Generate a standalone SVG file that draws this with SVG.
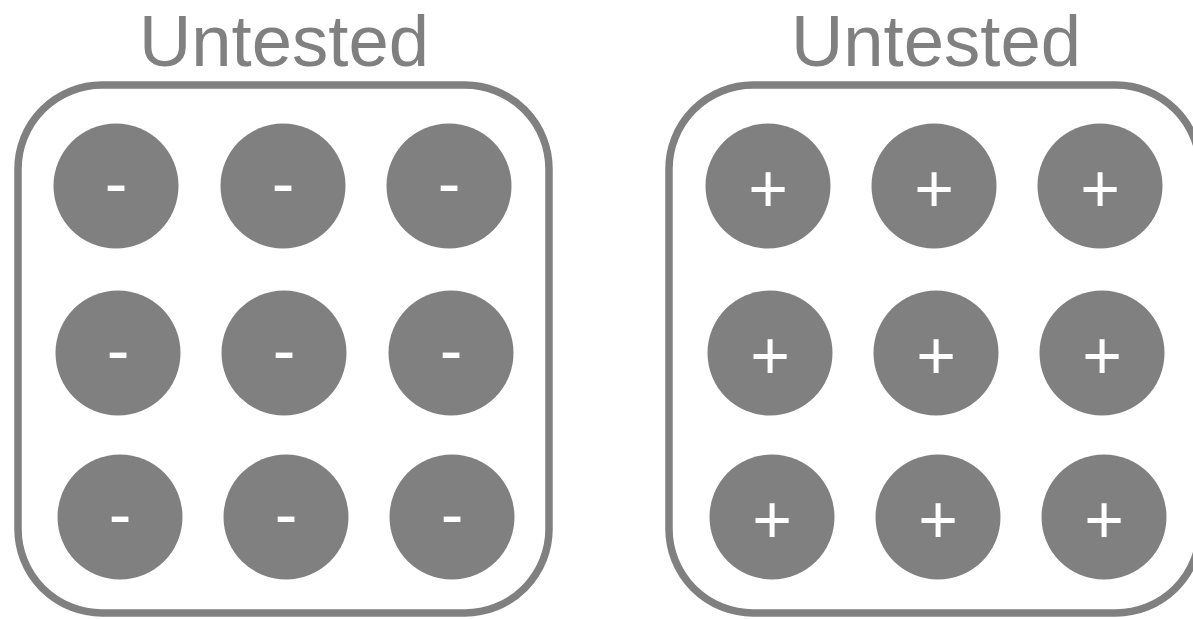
<svg xmlns="http://www.w3.org/2000/svg" width="1193" height="619" viewBox="0 0 1193 619">
<style>
.title{font-family:"Liberation Sans",Arial,sans-serif;font-size:73px;fill:#808080;text-anchor:middle}
.box{fill:none;stroke:#808080;stroke-width:7.5}
.c{fill:#808080}
.s{font-family:"Liberation Sans",Arial,sans-serif;font-size:68px;fill:#ffffff;text-anchor:middle}
</style>
<rect width="1193" height="619" fill="#ffffff"/>
<g id="left">
<text class="title" x="284" y="66" textLength="290" lengthAdjust="spacingAndGlyphs">Untested</text>
<rect class="box" x="18" y="85" width="531" height="528" rx="84"/>
<g id="l1"><circle class="c" cx="116" cy="186" r="62.5"/><text class="s" x="116" y="207">-</text></g>
<g id="l2"><circle class="c" cx="283" cy="186" r="62.5"/><text class="s" x="283" y="207">-</text></g>
<g id="l3"><circle class="c" cx="449" cy="186" r="62.5"/><text class="s" x="449" y="207">-</text></g>
<g id="l4"><circle class="c" cx="118" cy="353" r="62.5"/><text class="s" x="118" y="374">-</text></g>
<g id="l5"><circle class="c" cx="284" cy="353" r="62.5"/><text class="s" x="284" y="374">-</text></g>
<g id="l6"><circle class="c" cx="451" cy="353" r="62.5"/><text class="s" x="451" y="374">-</text></g>
<g id="l7"><circle class="c" cx="120" cy="517" r="62.5"/><text class="s" x="120" y="538">-</text></g>
<g id="l8"><circle class="c" cx="286" cy="517" r="62.5"/><text class="s" x="286" y="538">-</text></g>
<g id="l9"><circle class="c" cx="452" cy="517" r="62.5"/><text class="s" x="452" y="538">-</text></g>
</g>
<g id="right">
<text class="title" x="936" y="66" textLength="290" lengthAdjust="spacingAndGlyphs">Untested</text>
<rect class="box" x="669" y="85" width="531" height="528" rx="84"/>
<g id="r1"><circle class="c" cx="768" cy="186" r="62.5"/><text class="s" x="768" y="212">+</text></g>
<g id="r2"><circle class="c" cx="934" cy="186" r="62.5"/><text class="s" x="934" y="212">+</text></g>
<g id="r3"><circle class="c" cx="1100" cy="186" r="62.5"/><text class="s" x="1100" y="212">+</text></g>
<g id="r4"><circle class="c" cx="770" cy="353" r="62.5"/><text class="s" x="770" y="379">+</text></g>
<g id="r5"><circle class="c" cx="936" cy="353" r="62.5"/><text class="s" x="936" y="379">+</text></g>
<g id="r6"><circle class="c" cx="1102" cy="353" r="62.5"/><text class="s" x="1102" y="379">+</text></g>
<g id="r7"><circle class="c" cx="772" cy="517" r="62.5"/><text class="s" x="772" y="543">+</text></g>
<g id="r8"><circle class="c" cx="938" cy="517" r="62.5"/><text class="s" x="938" y="543">+</text></g>
<g id="r9"><circle class="c" cx="1104" cy="517" r="62.5"/><text class="s" x="1104" y="543">+</text></g>
</g>
<g id="connectors"/>
</svg>
